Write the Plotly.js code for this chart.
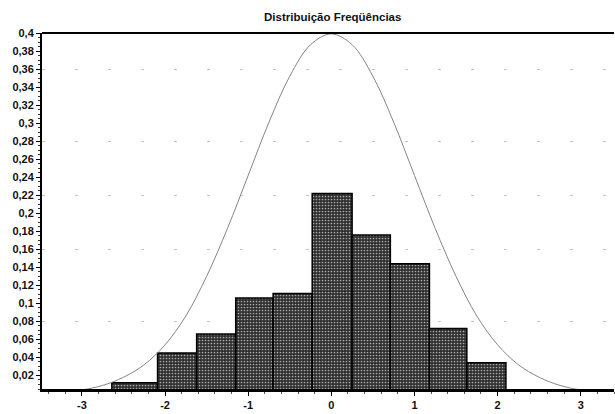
<!DOCTYPE html>
<html>
<head>
<meta charset="utf-8">
<script src="https://cdn.plot.ly/plotly-3.0.1.min.js"></script>
<style>html,body{margin:0;padding:0;background:#fff;}#chart{width:615px;height:414px;}</style>
</head>
<body>
<div id="chart"></div>
<script>
// Histogram data (bin edges and relative frequencies)
const binEdges = [-2.64, -2.09, -1.62, -1.15, -0.70, -0.23, 0.25, 0.71, 1.18, 1.63, 2.10];
const freqs = [0.012, 0.045, 0.066, 0.106, 0.111, 0.222, 0.176, 0.144, 0.072, 0.034];

// Normal curve points
const curveX = [-3.5, -3.25, -3, -2.75, -2.5, -2.25, -2, -1.75, -1.5, -1.25, -1, -0.75, -0.5, -0.25, 0, 0.25, 0.5, 0.75, 1, 1.25, 1.5, 1.75, 2, 2.25, 2.5, 2.75, 3, 3.25, 3.5];
const curveY = [0.001, 0.002, 0.004, 0.009, 0.018, 0.032, 0.054, 0.086, 0.130, 0.183, 0.242, 0.301, 0.352, 0.387, 0.399, 0.387, 0.352, 0.301, 0.242, 0.183, 0.130, 0.086, 0.054, 0.032, 0.018, 0.009, 0.004, 0.002, 0.001];

// Tick labels
const xTicks = [-3, -2, -1, 0, 1, 2, 3];
const yTicks = [0.02, 0.04, 0.06, 0.08, 0.1, 0.12, 0.14, 0.16, 0.18, 0.2, 0.22, 0.24, 0.26, 0.28, 0.3, 0.32, 0.34, 0.36, 0.38, 0.4];
const gridVals = [0.08, 0.16, 0.22, 0.28, 0.36];

const titleText = 'Distribuição Freqüências';

const centers = freqs.map((_, i) => (binEdges[i] + binEdges[i + 1]) / 2);
const widths = freqs.map((_, i) => binEdges[i + 1] - binEdges[i]);

const font = {family: '"Liberation Sans", Arial, sans-serif', size: 11, color: '#111', weight: 'bold'};

const traces = [
  {x: [], y: [], yaxis: 'y2', type: 'scatter', showlegend: false, hoverinfo: 'skip'},
  {
    type: 'bar', x: centers, y: freqs, width: widths,
    marker: {
      color: '#3a3a3a',
      line: {color: '#000', width: 1.5},
      pattern: {shape: '.', fillmode: 'replace', bgcolor: '#2f2f2f', fgcolor: '#a8a8a8', size: 3, solidity: 0.25}
    },
    showlegend: false
  },
  {
    type: 'scatter', mode: 'lines', x: curveX, y: curveY,
    line: {color: '#858585', width: 1, shape: 'spline', smoothing: 1},
    showlegend: false
  }
];

const layout = {
  width: 615, height: 414,
  margin: {l: 42, r: 1, t: 33, b: 25, pad: 0},
  paper_bgcolor: '#fff', plot_bgcolor: '#fff',
  separators: ',.',
  font: font,
  title: {text: titleText, font: {family: font.family, size: 11.5, color: '#111', weight: 'bold'},
          xref: 'container', yref: 'container', x: 0.541, y: 0.959, xanchor: 'center', yanchor: 'middle'},
  bargap: 0,
  xaxis: {
    range: [-3.48, 3.4], tickvals: xTicks, ticktext: xTicks.map(String),
    showgrid: false, zeroline: false,
    showline: true, linecolor: '#000', linewidth: 3, mirror: false,
    ticks: 'outside', ticklen: 4, tickcolor: '#000', tickwidth: 1,
    minor: {dtick: 0.2, tick0: 0, ticks: 'outside', ticklen: 2, tickcolor: '#555', showgrid: false},
    tickfont: font
  },
  yaxis: {
    range: [0.005, 0.4], tickvals: yTicks,
    showgrid: false, zeroline: false,
    showline: true, linecolor: '#000', linewidth: 2, mirror: false,
    ticks: 'outside', ticklen: 4, tickcolor: '#000', tickwidth: 1,
    minor: {dtick: 0.005, tick0: 0, ticks: 'outside', ticklen: 2, tickcolor: '#333', showgrid: false},
    tickfont: font
  },
  yaxis2: {
    overlaying: 'y', range: [0.005, 0.4], tickvals: gridVals,
    showgrid: true, gridcolor: '#c4c4c4', gridwidth: 1, griddash: '3px,30px',
    showticklabels: false, ticks: '', showline: false, zeroline: false, side: 'left'
  },
  shapes: [
    {type: 'line', xref: 'paper', yref: 'paper', x0: 0, x1: 1, y0: 1, y1: 1, line: {color: '#000', width: 2}}
  ]
};

Plotly.newPlot('chart', traces, layout, {displayModeBar: false, staticPlot: true});
</script>
</body>
</html>
